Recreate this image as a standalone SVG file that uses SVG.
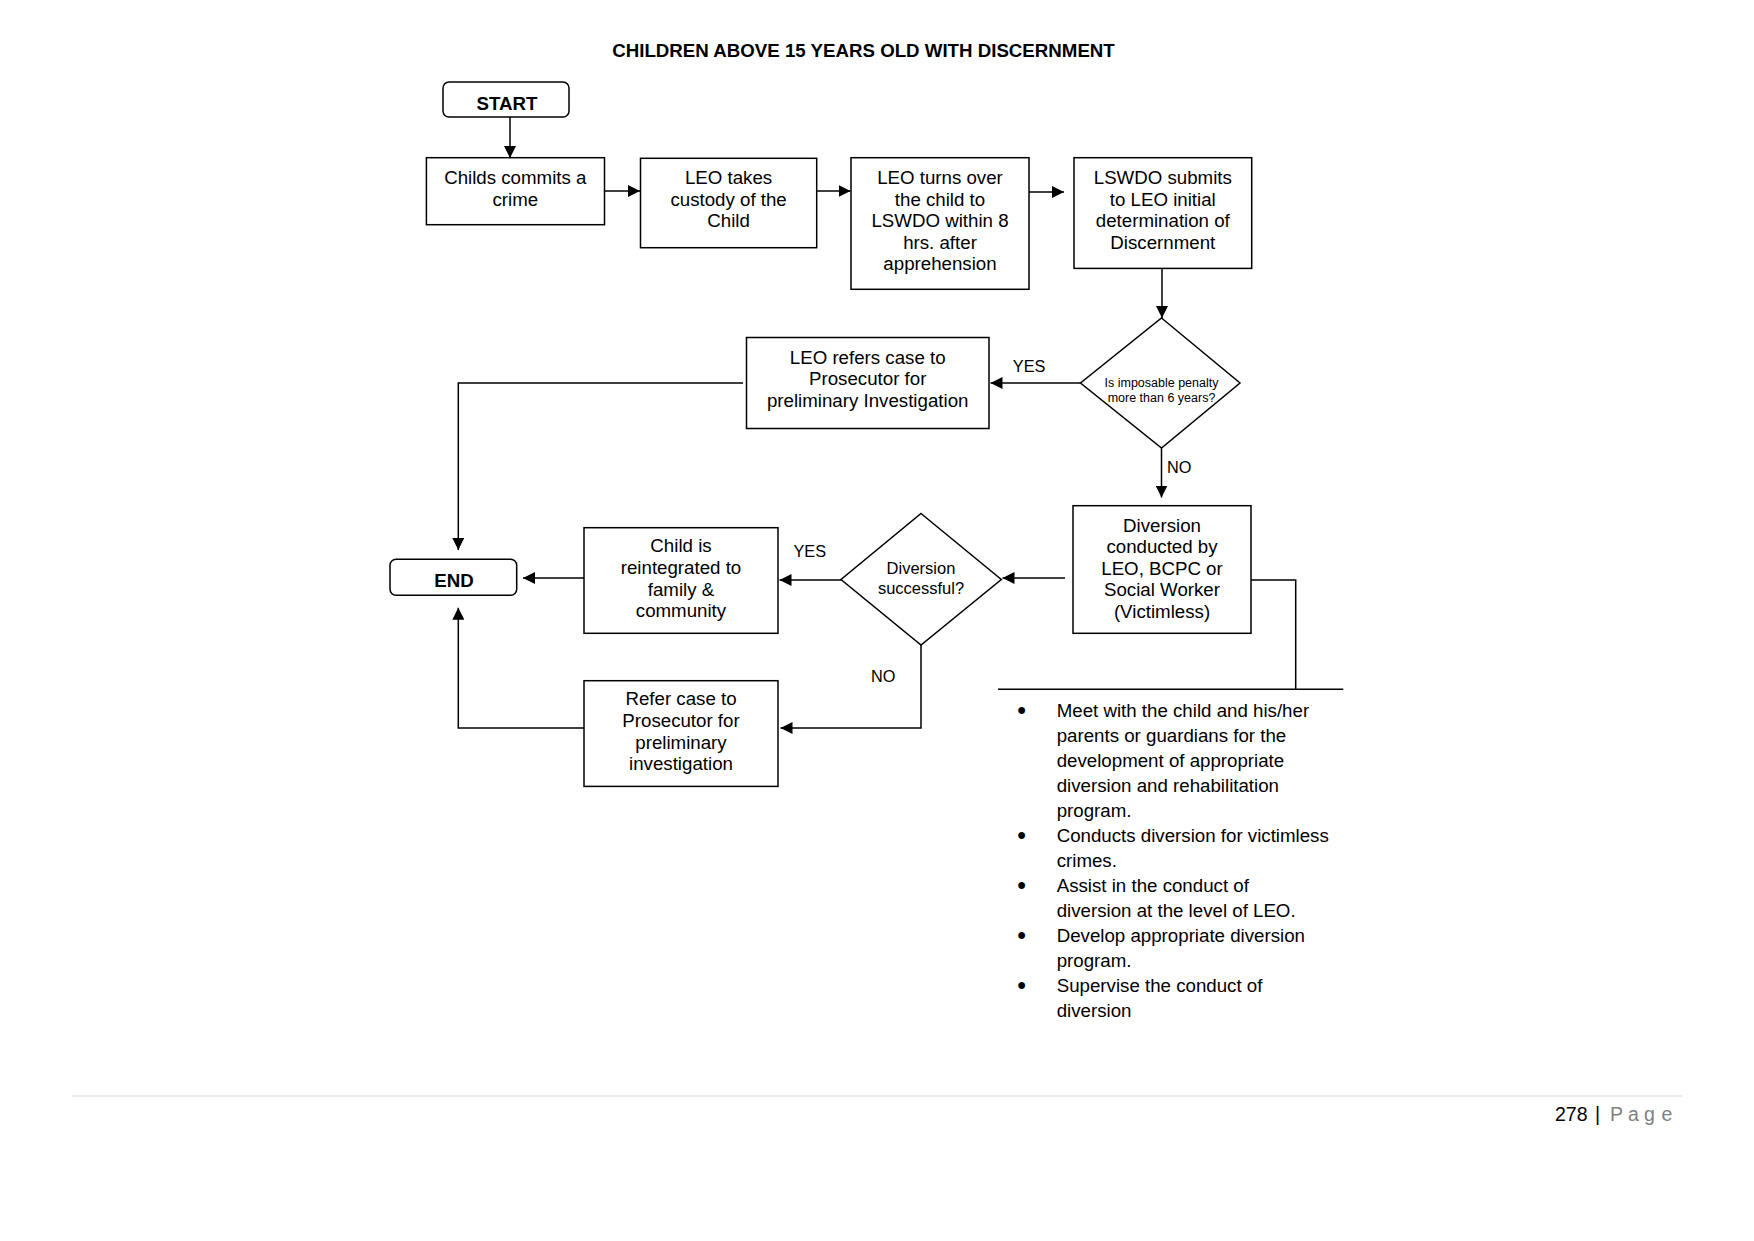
<svg xmlns="http://www.w3.org/2000/svg" width="1754" height="1241" viewBox="0 0 1754 1241">
<defs>
<marker id="ah" markerUnits="userSpaceOnUse" markerWidth="12" markerHeight="12" refX="12" refY="6" orient="auto">
<path d="M0,0 L12,6 L0,12 z" fill="#000"/>
</marker>
<style>
.box{fill:#fff;stroke:#000;stroke-width:1.5}
.t{font-family:"Liberation Sans",Arial,sans-serif;font-size:18.7px;fill:#000;text-anchor:middle}
.b{font-weight:bold}
.sm{font-size:12.5px}
.lbl{font-family:"Liberation Sans",Arial,sans-serif;font-size:16.3px;fill:#000}
.bl{font-family:"Liberation Sans",Arial,sans-serif;font-size:18.7px;fill:#000}
.bu{font-family:"Liberation Sans",Arial,sans-serif;font-size:25px;fill:#000;text-anchor:middle}
.c{fill:none;stroke:#000;stroke-width:1.5}
.ca{fill:none;stroke:#000;stroke-width:1.5;marker-end:url(#ah)}
</style>
</defs>
<rect width="1754" height="1241" fill="#fff"/>
<text class="t b" x="863.5" y="57.3">CHILDREN ABOVE 15 YEARS OLD WITH DISCERNMENT</text>

<g id="connectors">
<path class="ca" d="M510,117 V158"/>
<path class="ca" d="M604.5,191 H640"/>
<path class="ca" d="M816.7,191 H850.5"/>
<path class="ca" d="M1029,192 H1064"/>
<path class="ca" d="M1162,268.4 V318"/>
<path class="ca" d="M1080.5,383 H990.5"/>
<path class="ca" d="M743,383 H458.3 V550"/>
<path class="ca" d="M1161.5,448 V497.5"/>
<path class="ca" d="M1065,578 H1002.5"/>
<path class="ca" d="M841,580 H779.5"/>
<path class="ca" d="M584,578 H523"/>
<path class="ca" d="M921,645 V728 H780.5"/>
<path class="ca" d="M584,728 H458.3 V607.7"/>
<path class="c" d="M1251,580 H1295.7 V689.3"/>
<path class="c" d="M998,689.3 H1343.3"/>
</g>

<g id="start">
<rect class="box" x="443" y="82" width="126" height="35" rx="6"/>
<text class="t b" x="507" y="110">START</text>
</g>
<g id="childs-commits">
<rect class="box" x="426.4" y="157.7" width="178.1" height="67"/>
<text class="t" x="515.3" y="184">Childs commits a</text>
<text class="t" x="515.3" y="205.5">crime</text>
</g>
<g id="leo-takes">
<rect class="box" x="640.5" y="158.3" width="176.2" height="89.4"/>
<text class="t" x="728.6" y="184.3">LEO takes</text>
<text class="t" x="728.6" y="205.7">custody of the</text>
<text class="t" x="728.6" y="227">Child</text>
</g>
<g id="leo-turns">
<rect class="box" x="851" y="157.7" width="178" height="131.6"/>
<text class="t" x="940" y="184">LEO turns over</text>
<text class="t" x="940" y="205.5">the child to</text>
<text class="t" x="940" y="227">LSWDO within 8</text>
<text class="t" x="940" y="248.5">hrs. after</text>
<text class="t" x="940" y="270">apprehension</text>
</g>
<g id="lswdo">
<rect class="box" x="1074" y="157.7" width="177.7" height="110.7"/>
<text class="t" x="1162.8" y="184">LSWDO submits</text>
<text class="t" x="1162.8" y="205.5">to LEO initial</text>
<text class="t" x="1162.8" y="227">determination of</text>
<text class="t" x="1162.8" y="248.5">Discernment</text>
</g>
<g id="decision-penalty">
<polygon class="box" points="1161.5,318 1240,383 1161.5,448 1080.5,383"/>
<text class="t sm" x="1161.5" y="387">Is imposable penalty</text>
<text class="t sm" x="1161.5" y="402">more than 6 years?</text>
</g>
<g id="leo-refers">
<rect class="box" x="746.5" y="337.5" width="242.5" height="91"/>
<text class="t" x="867.7" y="363.5">LEO refers case to</text>
<text class="t" x="867.7" y="385">Prosecutor for</text>
<text class="t" x="867.7" y="406.5">preliminary Investigation</text>
</g>
<text class="lbl" x="1012.8" y="371.7">YES</text>
<text class="lbl" x="1167" y="472.5">NO</text>
<g id="diversion">
<rect class="box" x="1073" y="505.7" width="178" height="127.6"/>
<text class="t" x="1162" y="531.7">Diversion</text>
<text class="t" x="1162" y="553.3">conducted by</text>
<text class="t" x="1162" y="574.7">LEO, BCPC or</text>
<text class="t" x="1162" y="596.2">Social Worker</text>
<text class="t" x="1162" y="617.7">(Victimless)</text>
</g>
<g id="decision-diversion">
<polygon class="box" points="921,513.5 1001.3,579.5 921,645 841,579.5"/>
<text class="t" style="font-size:16.5px" x="921" y="574.3">Diversion</text>
<text class="t" style="font-size:16.5px" x="921" y="594">successful?</text>
</g>
<text class="lbl" x="793.5" y="556.7">YES</text>
<text class="lbl" x="871" y="682.3">NO</text>
<g id="child-reintegrated">
<rect class="box" x="584" y="527.7" width="194" height="105.6"/>
<text class="t" x="681" y="552.3">Child is</text>
<text class="t" x="681" y="574">reintegrated to</text>
<text class="t" x="681" y="595.7">family &amp;</text>
<text class="t" x="681" y="617.3">community</text>
</g>
<g id="refer-case">
<rect class="box" x="584" y="680.7" width="194" height="105.7"/>
<text class="t" x="681" y="705.3">Refer case to</text>
<text class="t" x="681" y="727">Prosecutor for</text>
<text class="t" x="681" y="748.7">preliminary</text>
<text class="t" x="681" y="770.3">investigation</text>
</g>
<g id="end">
<rect class="box" x="390" y="559.3" width="126.7" height="36" rx="6"/>
<text class="t b" x="454" y="587.3">END</text>
</g>

<g id="duties">
<text class="bu" x="1021.7" y="718.5">•</text>
<text class="bl" x="1056.7" y="716.7">Meet with the child and his/her</text>
<text class="bl" x="1056.7" y="741.7">parents or guardians for the</text>
<text class="bl" x="1056.7" y="766.7">development of appropriate</text>
<text class="bl" x="1056.7" y="791.7">diversion and rehabilitation</text>
<text class="bl" x="1056.7" y="816.7">program.</text>
<text class="bu" x="1021.7" y="843.5">•</text>
<text class="bl" x="1056.7" y="841.7">Conducts diversion for victimless</text>
<text class="bl" x="1056.7" y="866.7">crimes.</text>
<text class="bu" x="1021.7" y="893.5">•</text>
<text class="bl" x="1056.7" y="891.7">Assist in the conduct of</text>
<text class="bl" x="1056.7" y="916.7">diversion at the level of LEO.</text>
<text class="bu" x="1021.7" y="943.5">•</text>
<text class="bl" x="1056.7" y="941.7">Develop appropriate diversion</text>
<text class="bl" x="1056.7" y="966.7">program.</text>
<text class="bu" x="1021.7" y="993.5">•</text>
<text class="bl" x="1056.7" y="991.7">Supervise the conduct of</text>
<text class="bl" x="1056.7" y="1016.7">diversion</text>
</g>

<g id="footer">
<line x1="72" y1="1096" x2="1682" y2="1096" stroke="#d9d9d9" stroke-width="1"/>
<text font-family="'Liberation Sans',Arial,sans-serif" font-size="19.5" y="1120.7"><tspan x="1555" fill="#000">278</tspan><tspan x="1595" fill="#000">|</tspan><tspan x="1610" fill="#7f7f7f">P</tspan><tspan x="1628" fill="#7f7f7f">a</tspan><tspan x="1644" fill="#7f7f7f">g</tspan><tspan x="1661.5" fill="#7f7f7f">e</tspan></text>
</g>
</svg>
